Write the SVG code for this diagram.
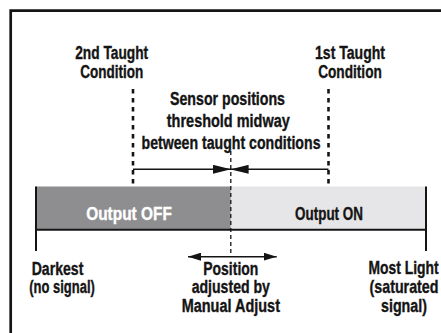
<svg xmlns="http://www.w3.org/2000/svg" width="441" height="333" viewBox="0 0 441 333">
<style>
  text { font-family: "Liberation Sans Narrow", "Liberation Sans", Arial, sans-serif; font-weight: bold; font-size: 17.5px; fill: #141414; stroke: #141414; stroke-width: 0.35; text-anchor: middle; }
  .white { fill: #ffffff; stroke: #ffffff; }
  .taught { stroke: #141414; stroke-width: 2.6; stroke-dasharray: 4.5 4.5; fill: none; }
  .mid { stroke: #141414; stroke-width: 1.3; stroke-dasharray: 4 3; fill: none; }
  .line { stroke: #141414; stroke-width: 1.5; fill: none; }
  .edge { stroke: #141414; stroke-width: 2; fill: none; }
</style>
<defs>
  <marker id="bigHead" markerUnits="userSpaceOnUse" markerWidth="18" markerHeight="9" refX="18" refY="4.5" orient="auto">
    <path d="M0,0 L18,4.5 L0,9 z" fill="#141414"/>
  </marker>
  <marker id="smallHead" markerUnits="userSpaceOnUse" markerWidth="13" markerHeight="8" refX="13" refY="4" orient="auto-start-reverse">
    <path d="M0,0 L13,4 L0,8 z" fill="#141414"/>
  </marker>
</defs>
<rect x="0" y="0" width="441" height="333" fill="#ffffff"/>
<path d="M10.7 333 V10.7 H441" stroke="#141414" stroke-width="2.7" fill="none"/>

<g id="bar-off">
  <rect x="36" y="186.5" width="194.8" height="43.3" fill="#8e8e90"/>
  <text class="white" x="129" y="219.5" textLength="85.7" lengthAdjust="spacingAndGlyphs">Output OFF</text>
</g>
<g id="bar-on">
  <rect x="230.8" y="186.5" width="195.2" height="43.3" fill="#e6e6e8"/>
  <text x="329" y="219.5" textLength="68" lengthAdjust="spacingAndGlyphs">Output ON</text>
</g>

<g id="connectors">
  <line class="taught" x1="133" y1="89" x2="133" y2="187"/>
  <line class="taught" x1="328.5" y1="89" x2="328.5" y2="187"/>
  <line class="line" x1="133" y1="169.3" x2="231" y2="169.3" marker-end="url(#bigHead)"/>
  <line class="line" x1="328.5" y1="169.3" x2="230.6" y2="169.3" marker-end="url(#bigHead)"/>
  <line class="mid" x1="230.8" y1="151" x2="230.8" y2="253"/>
  <line class="edge" x1="35" y1="229.8" x2="427" y2="229.8"/>
  <line class="edge" x1="36" y1="186.5" x2="36" y2="251"/>
  <line class="edge" x1="426" y1="186.5" x2="426" y2="251"/>
  <line class="line" x1="188" y1="256.7" x2="276.7" y2="256.7" marker-start="url(#smallHead)" marker-end="url(#smallHead)"/>
</g>

<g id="taught2">
  <text x="111.7" y="58.5" textLength="73" lengthAdjust="spacingAndGlyphs">2nd Taught</text>
  <text x="111.7" y="78" textLength="63" lengthAdjust="spacingAndGlyphs">Condition</text>
</g>
<g id="taught1">
  <text x="350" y="58.5" textLength="70" lengthAdjust="spacingAndGlyphs">1st Taught</text>
  <text x="350" y="78" textLength="63.7" lengthAdjust="spacingAndGlyphs">Condition</text>
</g>
<g id="midway">
  <text x="227.5" y="105" textLength="115" lengthAdjust="spacingAndGlyphs">Sensor positions</text>
  <text x="228.3" y="127" textLength="123" lengthAdjust="spacingAndGlyphs">threshold midway</text>
  <text x="231" y="149" textLength="179" lengthAdjust="spacingAndGlyphs">between taught conditions</text>
</g>
<g id="darkest">
  <text x="57.5" y="274.5" textLength="51.7" lengthAdjust="spacingAndGlyphs">Darkest</text>
  <text x="62" y="293" textLength="65.7" lengthAdjust="spacingAndGlyphs">(no signal)</text>
</g>
<g id="adjust">
  <text x="230.8" y="274.5" textLength="55" lengthAdjust="spacingAndGlyphs">Position</text>
  <text x="230.8" y="293" textLength="78.3" lengthAdjust="spacingAndGlyphs">adjusted by</text>
  <text x="230.8" y="312" textLength="98.3" lengthAdjust="spacingAndGlyphs">Manual Adjust</text>
</g>
<g id="mostlight">
  <text transform="translate(403.5 0) scale(0.8 1)" x="0" y="274.5" textLength="87.5" lengthAdjust="spacingAndGlyphs">Most Light</text>
  <text transform="translate(404 0) scale(0.8 1)" x="0" y="293" textLength="86.2" lengthAdjust="spacingAndGlyphs">(saturated</text>
  <text x="404" y="312" textLength="46" lengthAdjust="spacingAndGlyphs">signal)</text>
</g>
</svg>
